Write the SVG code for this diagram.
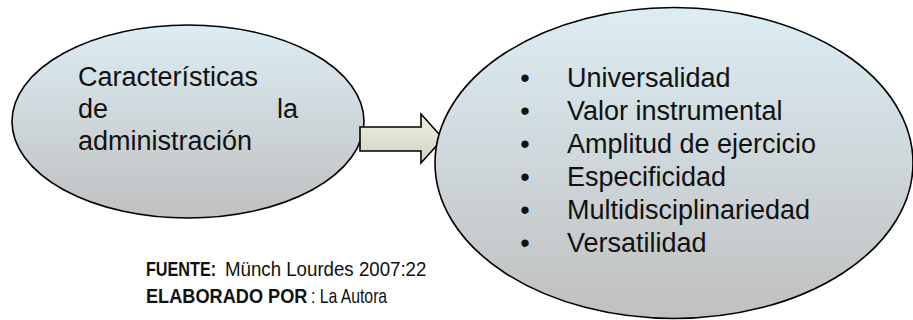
<svg xmlns="http://www.w3.org/2000/svg" width="913" height="320" viewBox="0 0 913 320">
  <defs>
    <linearGradient id="ellGrad" x1="0" y1="0" x2="0" y2="1">
      <stop offset="0" stop-color="#dcedf4"/>
      <stop offset="1" stop-color="#c0c0c0"/>
    </linearGradient>
    <linearGradient id="arrGrad" x1="0" y1="0" x2="0" y2="1">
      <stop offset="0" stop-color="#eef1e2"/>
      <stop offset="1" stop-color="#cfd3c3"/>
    </linearGradient>
  </defs>
  <style>
    .ell { fill: url(#ellGrad); stroke: #000; stroke-width: 1.6; }
    .arrow { fill: url(#arrGrad); stroke: #000; stroke-width: 1.6; stroke-linejoin: miter; }
    .t { font-family: Arial, "Liberation Sans", sans-serif; font-size: 27px; fill: #111; }
    .foot { font-family: "Liberation Sans", Arial, sans-serif; font-size: 21px; fill: #111; }
    .b { font-weight: bold; }
  </style>
  <rect width="913" height="320" fill="#fff"/>

  <g id="node-caracteristicas">
    <ellipse class="ell" cx="188" cy="121.5" rx="176" ry="96.5"/>
    <text class="t" x="78" y="86">Características</text>
    <text class="t" x="78" y="118">de</text>
    <text class="t" x="298" y="118" text-anchor="end">la</text>
    <text class="t" x="78" y="150">administración</text>
  </g>

  <g id="connectors">
    <polygon class="arrow" points="360,127 421,127 421,114 443,138.5 421,163 421,151 360,151"/>
  </g>

  <g id="node-lista">
    <ellipse class="ell" cx="674" cy="163" rx="239" ry="155.5"/>
    <text class="t" x="525" y="87" text-anchor="middle">•</text>
    <text class="t" x="567" y="87">Universalidad</text>
    <text class="t" x="525" y="120" text-anchor="middle">•</text>
    <text class="t" x="567" y="120">Valor instrumental</text>
    <text class="t" x="525" y="153" text-anchor="middle">•</text>
    <text class="t" x="567" y="153">Amplitud de ejercicio</text>
    <text class="t" x="525" y="186" text-anchor="middle">•</text>
    <text class="t" x="567" y="186">Especificidad</text>
    <text class="t" x="525" y="219" text-anchor="middle">•</text>
    <text class="t" x="567" y="219">Multidisciplinariedad</text>
    <text class="t" x="525" y="252" text-anchor="middle">•</text>
    <text class="t" x="567" y="252">Versatilidad</text>
  </g>

  <g id="footer">
    <text class="foot b" transform="translate(146,276) scale(0.77,1)">FUENTE:</text>
    <text class="foot" transform="translate(225,276) scale(0.89,1)">Münch Lourdes 2007:22</text>
    <text class="foot b" transform="translate(146,303) scale(0.865,1)">ELABORADO POR</text>
    <text class="foot" transform="translate(311,303) scale(0.75,1)">: La Autora</text>
  </g>
</svg>
